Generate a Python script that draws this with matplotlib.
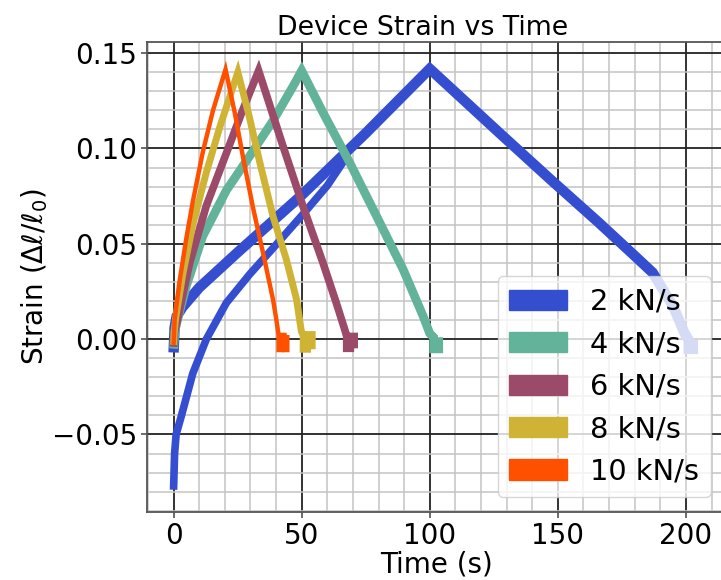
import matplotlib
matplotlib.use('Agg')
import matplotlib.pyplot as plt
import matplotlib.patches as mpatches

labels = ['2 kN/s', '4 kN/s', '6 kN/s', '8 kN/s', '10 kN/s']
colors = ['#354ecf', '#63b39a', '#9b4a69', '#cfb334', '#ff5000']

# 2 kN/s : first run (upper loading branch, unloading and hold)
t2 = [0, 0.4, 1.2, 3.6, 10, 25, 50, 75, 100, 127, 147, 166, 180, 187, 195, 199.5,
      201.1, 201.1, 202.7, 202.7]
s2 = [-0.007, 0.006, 0.012, 0.017, 0.027, 0.0455, 0.0755, 0.108, 0.1418,
      0.1084, 0.0839, 0.0611, 0.0437, 0.0349, 0.0173, 0.003,
      -0.0004, -0.0051, -0.0051, -0.0004]
# 2 kN/s : second loading branch (starting from pre-compression)
t2b = [0, 0.4, 1.0, 3.1, 7.5, 12.8, 20.6, 29.7, 40, 50.5, 60, 68]
s2b = [-0.079, -0.060, -0.050, -0.040, -0.018, 0.0, 0.019, 0.034, 0.0495, 0.0655,
       0.0805, 0.0965]

# 4 kN/s
t4 = [0, 0.5, 1.7, 5, 11.4, 20.6, 29.7, 38.8, 46.6, 50, 58.3, 68.75, 79.2, 89.6, 97.4,
      100, 101.5, 101.5, 103.5, 103.5]
s4 = [-0.005, 0.004, 0.011, 0.028, 0.054, 0.078, 0.096, 0.1145, 0.1325, 0.1408,
      0.1189, 0.0926, 0.0646, 0.0366, 0.0121, 0.003, 0.001, -0.0051, -0.0051, 0.001]

# 6 kN/s
t6 = [0, 0.4, 1.7, 6.3, 12.8, 20.6, 27.1, 33.2, 42.7, 50.5, 58.3, 63.5, 66.8,
      67.6, 67.6, 69.0, 69.0, 70.5, 70.5]
s6 = [-0.004, 0.004, 0.011, 0.040, 0.070, 0.0975, 0.1205, 0.1408, 0.1013, 0.0698,
      0.0401, 0.0191, 0.0051, 0.0014, -0.0048, -0.0048, 0.0014, 0.0014, -0.0048]

# 8 kN/s
t8 = [0, 0.3, 0.8, 3.6, 7.5, 12.8, 18, 21.9, 25.1, 29.5, 33.6, 38.8, 44, 48, 49.9,
      50.6, 50.6, 52.3, 52.3, 54.1, 54.1]
s8 = [-0.003, 0.004, 0.011, 0.034, 0.060, 0.0875, 0.111, 0.127, 0.1400, 0.117,
      0.093, 0.0645, 0.0419, 0.0209, 0.004,
      0.0024, -0.0053, -0.0053, 0.0024, 0.0024, -0.0053]

# 10 kN/s
t10 = [0, 0.4, 2.3, 5, 7.5, 11.4, 15.4, 20.3, 24, 27.1, 31, 34.9, 38.8, 40.1,
       41.0, 41.0, 42.2, 42.2, 43.3, 43.3, 44.4, 44.4]
s10 = [-0.003, 0.010, 0.030, 0.053, 0.072, 0.098, 0.120, 0.1415, 0.118, 0.0955,
       0.069, 0.0454, 0.0209, 0.0104,
       0.0022, -0.0057, -0.0057, 0.0022, 0.0022, -0.0057, -0.0057, 0.0022]

plt.rcParams['font.family'] = ['DejaVu Sans']
fig = plt.figure(figsize=(7.21, 5.80), dpi=100)
ax = fig.add_axes([147.3 / 721, 1 - 511.7 / 580, (725 - 147.3) / 721, (511.7 - 41.7) / 580])

kw = dict(solid_joinstyle='miter', solid_capstyle='butt', zorder=3)
ax.plot(t2b, s2b, color=colors[0], lw=5.5, **kw)
ax.plot(t2, s2, color=colors[0], lw=7.5, **kw)
ax.plot(t4, s4, color=colors[1], lw=6.3, **kw)
ax.plot(t6, s6, color=colors[2], lw=5.5, **kw)
ax.plot(t8, s8, color=colors[3], lw=5, **kw)
ax.plot(t10, s10, color=colors[4], lw=3.2, **kw)

ax.set_xlim(-10.25, 215.25)
ax.set_ylim(-0.0905, 0.156)
ax.set_xticks([0, 50, 100, 150, 200])
ax.set_yticks([-0.05, 0.0, 0.05, 0.10, 0.15])
ax.set_xticks(range(-10, 216, 10), minor=True)
ax.set_yticks([v / 100 for v in range(-9, 16)], minor=True)
ax.grid(which='major', color='#222222', lw=1.3, zorder=1)
ax.grid(which='minor', color='#c4c4c4', lw=1.1, zorder=0)
ax.set_axisbelow(True)
ax.tick_params(which='major', labelsize=20, length=4, width=1.1, color='#444444')
ax.tick_params(which='minor', length=0)
for sp in ax.spines.values():
    sp.set_color('#555555')
    sp.set_linewidth(1.3)

ax.set_title('Device Strain vs Time', fontsize=19.3, x=0.477, pad=5)
ax.set_xlabel('Time (s)', fontsize=20, labelpad=0)
ax.set_ylabel(r'Strain ($\Delta\ell/\ell_0$)', fontsize=20, labelpad=1)

handles = [mpatches.Patch(color=c, label=l) for c, l in zip(colors, labels)]
ax.legend(handles=handles, loc='lower right', fontsize=20.8, framealpha=0.8)

fig.savefig('out.png', dpi=100)
